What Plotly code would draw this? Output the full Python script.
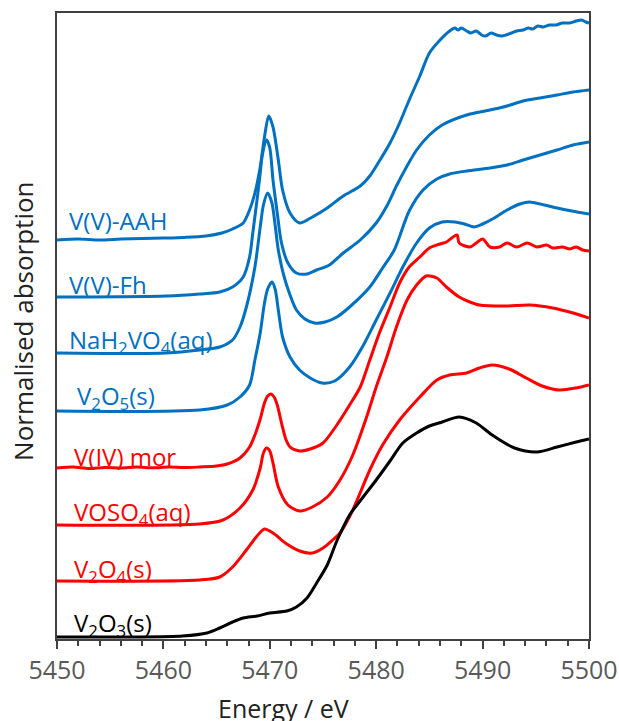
import plotly.graph_objects as go

# V K-edge XANES spectra, vertically offset (normalised absorption + stacking offset)

aah_e = [5450.0, 5452.0, 5454.0, 5456.0, 5458.0, 5460.0, 5462.0, 5464.0, 5465.5, 5466.5,
         5467.5, 5468.1, 5468.6, 5469.1, 5469.5, 5469.9, 5470.3, 5470.8, 5471.2, 5471.9,
         5472.8, 5474.0, 5475.4, 5476.9, 5478.5, 5479.4, 5480.3, 5481.3, 5482.2, 5483.1,
         5484.1, 5485.0, 5486.0, 5486.9, 5487.4, 5487.7, 5488.0, 5488.5, 5488.9, 5489.4,
         5489.9, 5490.3, 5490.8, 5491.3, 5491.8, 5492.2, 5492.7, 5493.2, 5493.8, 5494.3,
         5494.7, 5495.2, 5495.7, 5496.3, 5496.9, 5497.5, 5498.2, 5498.8, 5499.3, 5499.7,
         5500.0]
aah_mu = [1.995, 2.0, 1.995, 2.0, 2.003, 2.005, 2.008, 2.015, 2.03, 2.05,
          2.08, 2.145, 2.23, 2.36, 2.51, 2.615, 2.56, 2.395, 2.245, 2.13,
          2.08, 2.11, 2.155, 2.215, 2.265, 2.315, 2.39, 2.48, 2.58, 2.695,
          2.815, 2.93, 2.995, 3.04, 3.055, 3.045, 3.055, 3.04, 3.03, 3.04,
          3.02, 3.015, 3.03, 3.02, 3.015, 3.02, 3.03, 3.04, 3.045, 3.055,
          3.05, 3.065, 3.06, 3.07, 3.07, 3.08, 3.08, 3.09, 3.095, 3.085,
          3.08]

fh_e = [5450.0, 5460.3, 5463.4, 5465.3, 5466.5, 5467.5, 5468.1, 5468.4, 5468.8, 5469.1,
        5469.3, 5469.7, 5470.0, 5470.3, 5470.7, 5471.1, 5471.7, 5472.5, 5473.5, 5474.4,
        5475.6, 5476.9, 5478.5, 5480.0, 5481.0, 5481.9, 5482.9, 5483.8, 5485.0, 5486.2,
        5488.5, 5490.7, 5492.3, 5493.8, 5495.4, 5497.0, 5498.5, 5500.0]
fh_mu = [1.71, 1.715, 1.725, 1.735, 1.76, 1.81, 1.91, 2.03, 2.195, 2.33,
         2.42, 2.495, 2.455, 2.295, 2.13, 1.98, 1.88, 1.83, 1.825, 1.845,
         1.87, 1.93, 1.995, 2.08, 2.165, 2.265, 2.365, 2.445, 2.52, 2.57,
         2.62, 2.645, 2.665, 2.69, 2.705, 2.72, 2.735, 2.745]

na_e = [5450.0, 5460.3, 5463.4, 5465.3, 5466.5, 5467.2, 5467.8, 5468.6, 5469.1, 5469.4,
        5469.8, 5470.2, 5470.5, 5470.8, 5471.3, 5471.9, 5472.5, 5473.3, 5474.2, 5475.2,
        5476.3, 5477.5, 5479.4, 5480.6, 5481.7, 5483.1, 5484.4, 5485.7, 5486.9, 5488.5,
        5490.7, 5492.3, 5493.8, 5495.4, 5497.0, 5498.5, 5500.0]
na_mu = [1.43, 1.43, 1.445, 1.46, 1.495, 1.56, 1.66, 1.86, 2.06, 2.17,
         2.23, 2.18, 2.07, 1.945, 1.82, 1.72, 1.645, 1.6, 1.58, 1.585,
         1.61, 1.66, 1.76, 1.855, 1.945, 2.14, 2.245, 2.3, 2.325, 2.34,
         2.355, 2.37, 2.395, 2.42, 2.445, 2.47, 2.485]

v2o5_e = [5450.0, 5463.4, 5466.0, 5467.2, 5468.1, 5468.6, 5469.1, 5469.5, 5469.8, 5470.2,
          5470.5, 5470.8, 5471.2, 5471.9, 5472.8, 5473.8, 5474.9, 5476.1, 5477.5, 5478.7,
          5480.0, 5481.3, 5482.5, 5483.8, 5485.0, 5486.2, 5487.4, 5488.3, 5489.2, 5490.0,
          5491.1, 5492.3, 5493.5, 5494.4, 5495.8, 5497.0, 5498.4, 5500.0]
v2o5_mu = [1.14, 1.145, 1.17, 1.21, 1.27, 1.395, 1.53, 1.68, 1.75, 1.785,
           1.75, 1.645, 1.51, 1.41, 1.345, 1.305, 1.28, 1.29, 1.36, 1.46,
           1.595, 1.73, 1.86, 1.98, 2.055, 2.085, 2.085, 2.075, 2.06, 2.075,
           2.105, 2.145, 2.175, 2.185, 2.17, 2.155, 2.14, 2.125]

mor_e = [5450.0, 5451.5, 5453.0, 5454.5, 5456.0, 5457.5, 5459.0, 5460.5, 5462.0, 5463.4,
         5465.0, 5466.0, 5467.2, 5468.1, 5468.6, 5469.1, 5469.5, 5469.8, 5470.1, 5470.4,
         5470.7, 5471.1, 5471.5, 5471.9, 5472.8, 5473.8, 5475.0, 5476.3, 5477.5, 5478.5,
         5479.4, 5480.3, 5481.3, 5482.2, 5483.1, 5484.1, 5485.0, 5486.0, 5486.6, 5487.1,
         5487.6, 5487.8, 5488.8, 5489.4, 5490.0, 5490.7, 5491.6, 5492.3, 5493.2, 5494.2,
         5495.1, 5496.0, 5496.6, 5497.5, 5498.2, 5498.8, 5499.4, 5500.0]
mor_mu = [0.855, 0.86, 0.853, 0.858, 0.855, 0.86, 0.856, 0.86, 0.857, 0.86,
          0.865, 0.875, 0.905, 0.96, 1.02, 1.1, 1.18, 1.215, 1.225, 1.21,
          1.17, 1.08, 1.0, 0.96, 0.94, 0.95, 0.98, 1.07, 1.17, 1.26,
          1.395, 1.53, 1.66, 1.78, 1.86, 1.91, 1.955, 1.975, 1.985, 2.005,
          2.02, 1.98, 1.96, 1.98, 2.0, 1.96, 1.96, 1.98, 1.96, 1.98,
          1.96, 1.97, 1.955, 1.96, 1.95, 1.96, 1.945, 1.94]

voso4_e = [5450.0, 5463.4, 5465.6, 5467.2, 5468.4, 5469.1, 5469.4, 5469.7, 5470.0, 5470.3,
           5470.8, 5471.7, 5472.8, 5474.0, 5475.4, 5476.6, 5477.8, 5479.1, 5480.0, 5481.0,
           5481.9, 5482.9, 5483.8, 5484.7, 5485.7, 5486.6, 5487.8, 5488.8, 5489.7, 5492.3,
           5494.4, 5496.6, 5498.5, 5500.0]
voso4_mu = [0.57, 0.575, 0.595, 0.655, 0.745, 0.855, 0.93, 0.955, 0.94, 0.88,
            0.76, 0.67, 0.64, 0.66, 0.71, 0.795, 0.92, 1.11, 1.26, 1.41,
            1.56, 1.695, 1.77, 1.815, 1.805, 1.76, 1.71, 1.685, 1.67, 1.665,
            1.67, 1.655, 1.63, 1.605]

v2o4_e = [5450.0, 5463.4, 5465.3, 5466.5, 5467.8, 5468.8, 5469.5, 5470.3, 5471.6, 5472.8,
          5474.0, 5475.0, 5475.9, 5476.6, 5477.8, 5479.4, 5480.6, 5482.2, 5484.1, 5485.7,
          5486.9, 5488.5, 5489.7, 5490.9, 5492.5, 5494.1, 5495.6, 5497.2, 5498.8, 5500.0]
v2o4_mu = [0.29, 0.295, 0.31, 0.36, 0.445, 0.515, 0.55, 0.53, 0.475, 0.44,
           0.43, 0.455, 0.495, 0.53, 0.645, 0.845, 0.97, 1.095, 1.21, 1.295,
           1.32, 1.33, 1.355, 1.37, 1.35, 1.305, 1.265, 1.245, 1.255, 1.27]

v2o3_e = [5450.0, 5457.1, 5461.8, 5464.1, 5465.3, 5466.5, 5467.5, 5468.8, 5470.0, 5471.6,
          5472.5, 5473.5, 5474.4, 5475.4, 5476.3, 5477.5, 5478.7, 5480.0, 5481.3, 5482.5,
          5483.8, 5485.0, 5486.2, 5487.8, 5489.4, 5490.9, 5493.0, 5495.1, 5497.0, 5498.8,
          5500.0]
v2o3_mu = [0.01, 0.01, 0.015, 0.03, 0.055, 0.085, 0.105, 0.115, 0.13, 0.14,
           0.16, 0.205, 0.28, 0.37, 0.49, 0.62, 0.705, 0.795, 0.89, 0.98,
           1.03, 1.065, 1.085, 1.11, 1.08, 1.02, 0.955, 0.935, 0.96, 0.985,
           1.0]

sample_names = ["V(V)-AAH", "V(V)-Fh", "NaH<sub>2</sub>VO<sub>4</sub>(aq)",
                "V<sub>2</sub>O<sub>5</sub>(s)", "V(IV) mor", "VOSO<sub>4</sub>(aq)",
                "V<sub>2</sub>O<sub>4</sub>(s)", "V<sub>2</sub>O<sub>3</sub>(s)"]
# label anchor (energy of left edge, stacked absorption of text centre)
label_e = [5450.9, 5450.9, 5450.9, 5451.7, 5451.4, 5451.4, 5451.4, 5451.4]
label_mu = [2.095, 1.775, 1.49, 1.21, 0.915, 0.63, 0.345, 0.075]
x_ticks = [5450, 5460, 5470, 5480, 5490, 5500]

BLUE = "#0070C0"
RED = "#FF0000"
BLACK = "#000000"
series = [
    (aah_e, aah_mu, BLUE),
    (fh_e, fh_mu, BLUE),
    (na_e, na_mu, BLUE),
    (v2o5_e, v2o5_mu, BLUE),
    (mor_e, mor_mu, RED),
    (voso4_e, voso4_mu, RED),
    (v2o4_e, v2o4_mu, RED),
    (v2o3_e, v2o3_mu, BLACK),
]

FONT = "Open Sans, DejaVu Sans, sans-serif"
fig = go.Figure()
for (e, mu, color), name in zip(series, sample_names):
    assert len(e) == len(mu), name
    fig.add_trace(go.Scatter(x=e, y=mu, mode="lines",
                             line=dict(color=color, width=3, shape="spline", smoothing=0.8),
                             name=name, showlegend=False, hoverinfo="skip"))

for name, xe, ym, (_, _, color) in zip(sample_names, label_e, label_mu, series):
    fig.add_annotation(x=xe, y=ym, xref="x", yref="y", text=name, showarrow=False,
                       xanchor="left", yanchor="middle",
                       font=dict(family=FONT, size=24, color=color))

fig.add_annotation(x=0.425, y=-0.11, xref="paper", yref="paper", text="Energy / eV",
                   showarrow=False, xanchor="center", yanchor="middle",
                   font=dict(family=FONT, size=25, color="#222222"))
fig.add_annotation(x=-0.064, y=0.508, xref="paper", yref="paper",
                   text="Normalised absorption", textangle=-90, showarrow=False,
                   xanchor="center", yanchor="middle",
                   font=dict(family=FONT, size=26, color="#222222"))

axis_col = "#404040"
fig.update_layout(
    width=619, height=721,
    margin=dict(l=57, r=30, t=13, b=82, autoexpand=False),
    paper_bgcolor="white", plot_bgcolor="white",
    xaxis=dict(range=[5450, 5500], tickvals=x_ticks, ticks="outside", ticklen=8,
               tickwidth=1.5, tickcolor=axis_col, showline=True, linecolor=axis_col,
               linewidth=2, mirror=True, showgrid=False, zeroline=False, automargin=False,
               tickfont=dict(family=FONT, size=25, color="#595959"),
               minor=dict(dtick=2, tick0=5450, ticks="outside", ticklen=5,
                          tickwidth=1.5, tickcolor=axis_col, showgrid=False)),
    yaxis=dict(range=[0, 3.13], showticklabels=False, ticks="", showline=True,
               linecolor=axis_col, linewidth=2, mirror=True, showgrid=False,
               zeroline=False, automargin=False),
)

fig.write_html("out.html")
